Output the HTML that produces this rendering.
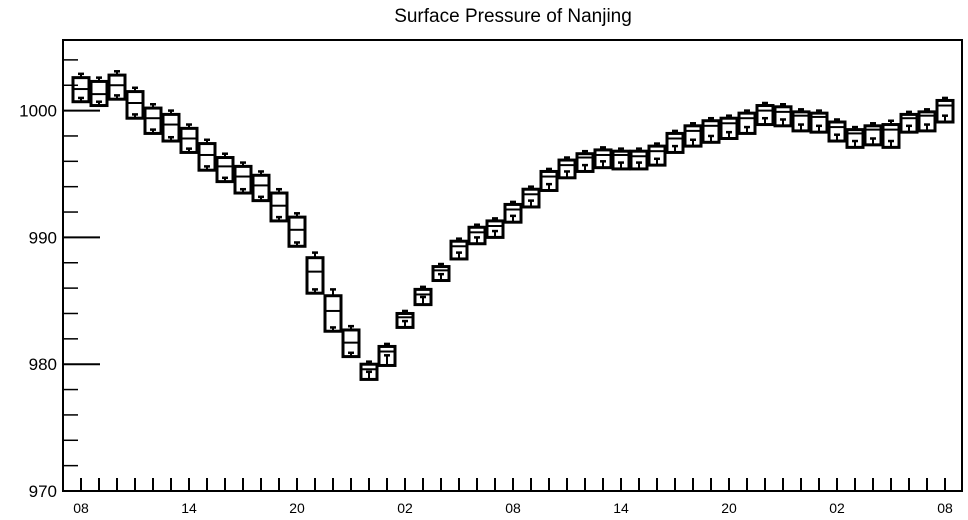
<!DOCTYPE html>
<html><head><meta charset="utf-8"><style>
body{margin:0;background:#fff}
svg{display:block;font-family:"Liberation Sans",sans-serif}
</style></head><body>
<svg id="chart" width="968" height="520" viewBox="0 0 968 520">
<text x="513" y="22" font-size="19" text-anchor="middle">Surface Pressure of Nanjing</text>
<g id="axes"></g><g id="marks"></g>
</svg>
<script>
const xLabels=["08","14","20","02","08","14","20","02","08"];
const yTicks=[970,980,990,1000];
const q3=[1002.6,1002.3,1002.8,1001.5,1000.2,999.7,998.6,997.4,996.3,995.6,994.9,993.5,991.6,988.4,985.4,982.7,980.0,981.4,984.0,985.9,987.7,989.7,990.8,991.3,992.6,993.8,995.2,996.1,996.6,996.9,996.8,996.8,997.2,998.2,998.8,999.2,999.4,999.8,1000.4,1000.3,999.9,999.8,999.1,998.5,998.8,998.9,999.7,999.9,1000.8];
const q1=[1000.7,1000.4,1000.9,999.4,998.2,997.6,996.7,995.3,994.4,993.5,992.9,991.3,989.3,985.6,982.6,980.6,978.8,979.9,982.9,984.7,986.6,988.3,989.5,990.0,991.2,992.4,993.7,994.7,995.2,995.5,995.4,995.4,995.7,996.7,997.2,997.5,997.8,998.2,998.9,998.8,998.4,998.3,997.6,997.1,997.3,997.1,998.3,998.4,999.1];
const med=[1001.7,1001.3,1002.0,1000.6,999.4,998.9,997.8,996.5,995.6,994.8,994.1,992.5,990.6,987.3,984.2,981.7,979.6,981.0,983.7,985.5,987.4,989.3,990.4,990.9,992.2,993.4,994.8,995.7,996.3,996.5,996.5,996.4,996.8,997.8,998.4,998.8,999.0,999.4,1000.0,999.9,999.6,999.5,998.7,998.2,998.5,998.5,999.4,999.6,1000.4];
const maxV=[1002.9,1002.6,1003.1,1001.8,1000.5,1000.0,998.9,997.7,996.6,995.9,995.2,993.8,991.9,988.8,985.9,983.0,980.2,981.6,984.2,986.1,987.9,989.9,991.0,991.5,992.8,994.0,995.4,996.3,996.8,997.1,997.0,997.0,997.4,998.4,999.0,999.4,999.6,1000.0,1000.6,1000.5,1000.1,1000.0,999.3,998.7,999.0,999.2,999.9,1000.1,1001.0];
const lowMark=[1001.0,1000.7,1001.2,999.7,998.5,997.9,997.0,995.6,994.7,993.8,993.2,991.6,989.6,985.9,982.9,980.9,979.4,980.7,983.4,985.3,987.1,988.8,990.0,990.5,991.7,992.9,994.2,995.2,995.7,996.0,995.9,995.9,996.2,997.2,997.7,998.0,998.3,998.7,999.4,999.3,998.9,998.8,998.1,997.6,997.8,997.6,998.8,998.9,999.6];
const L=63,R=962,T=40,B=491,x0=81,dx=18;
const y=v=>B-(v-970)*12.68;
const x=i=>x0+i*dx;
const NS="http://www.w3.org/2000/svg";
function mk(tag,at,parent){const e=document.createElementNS(NS,tag);for(const k in at)e.setAttribute(k,at[k]);parent.appendChild(e);return e;}
const ax=document.getElementById('axes'),mg=document.getElementById('marks');
let fr=mk('rect',{x:L,y:T,width:R-L,height:B-T,fill:'none',stroke:'#000','stroke-width':2},ax);


for(let v=970;v<=1005;v+=2){
  const major=yTicks.includes(v);
  let t=mk('line',{x1:L,x2:L+(major?37:15),y1:y(v),y2:y(v),stroke:'#000','stroke-width':major?2:1.5},ax);
  
  
}
yTicks.forEach(v=>{
  let t=mk('text',{x:L-6,y:y(v)+6,'font-size':17,'text-anchor':'end'},ax);
  t.textContent=v;
  
  
});
for(let i=0;i<q3.length;i++){
  let t=mk('line',{x1:x(i),x2:x(i),y1:B,y2:B-13,stroke:'#000','stroke-width':2},ax);
  
  
}
xLabels.forEach((s,k)=>{
  let t=mk('text',{x:x(k*6),y:513,'font-size':14,'text-anchor':'middle'},ax);
  t.textContent=s;
  
  
});
for(let i=0;i<q3.length;i++){
  const g=mk('g',{stroke:'#000',fill:'none'},mg);
  
  
  const cx=x(i),w=16;
  mk('line',{x1:cx,x2:cx,y1:y(q3[i]),y2:y(maxV[i]),'stroke-width':2},g);
  mk('line',{x1:cx-3,x2:cx+3,y1:y(maxV[i]),y2:y(maxV[i]),'stroke-width':2.5},g);
  mk('rect',{x:cx-w/2,y:y(q3[i]),width:w,height:y(q1[i])-y(q3[i]),'stroke-width':3},g);
  mk('line',{x1:cx-w/2,x2:cx+w/2,y1:y(med[i]),y2:y(med[i]),'stroke-width':2},g);
  mk('line',{x1:cx-3,x2:cx+3,y1:y(lowMark[i]),y2:y(lowMark[i]),'stroke-width':2.5},g);
  mk('line',{x1:cx,x2:cx,y1:y(lowMark[i]),y2:y(q1[i]),'stroke-width':2},g);
}
</script>
</body></html>
